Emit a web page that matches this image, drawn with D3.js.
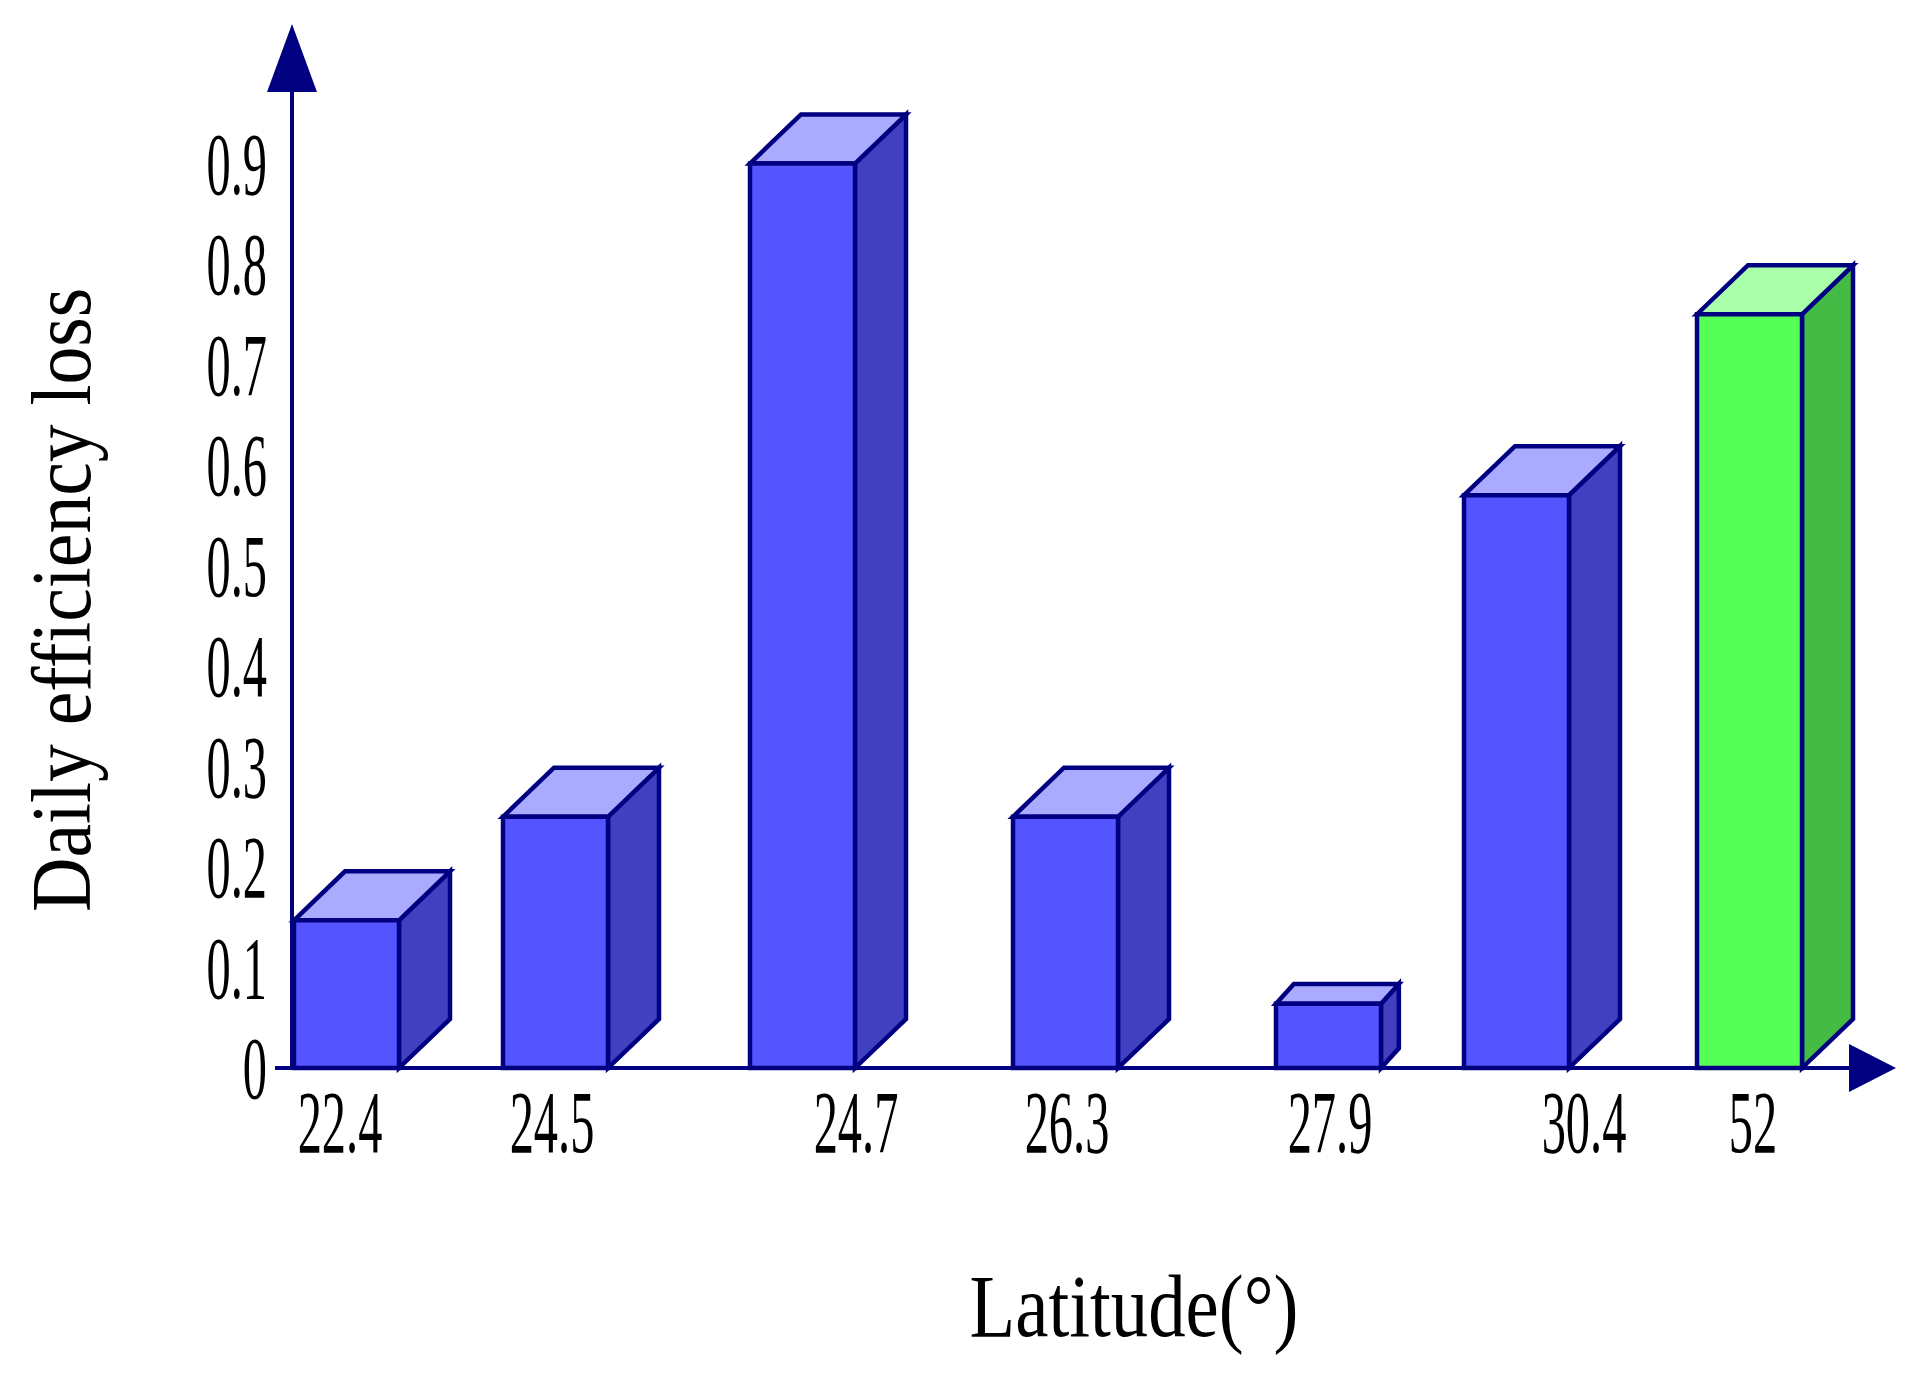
<!DOCTYPE html><html><head><script src="https://d3js.org/d3.v7.min.js"></script>
<style>body{margin:0;background:#fff}</style></head><body><svg id="c" width="1913" height="1381"></svg>
<script>
const categories=["22.4","24.5","24.7","26.3","27.9","30.4","52"];
const values=[0.147,0.25,0.9,0.25,0.064,0.57,0.75];
const yTicks=[0,0.1,0.2,0.3,0.4,0.5,0.6,0.7,0.8,0.9];
const highlight=[false,false,false,false,false,false,true];
const depthFactor=[1,1,1,1,0.35,1,1];
const svg=d3.select("#c");
const base=1068, ax=292;
const y=d3.scaleLinear().domain([0,0.9]).range([base,base-0.9*1005]);
const xPos=d3.scaleOrdinal().domain(categories).range([294,503,750,1013,1276,1464,1697]);
const bw=105, dxs=51, dys=49, col="#000080";
const g=svg.append("g");
categories.forEach((c,i)=>{
  const x0=xPos(c), yt=y(values[i]), dx=dxs*depthFactor[i], dy=dys*depthFactor[i]*(i==4?1.15:1);
  const hl=highlight[i];
  const front=hl?"#55ff55":"#5555ff", side=hl?"#44bb44":"#4040c0", top=hl?"#aaffaa":"#aaaaff";
  const st={stroke:col,"stroke-width":4.5,"stroke-linejoin":"miter"};
  const p=(pts,f)=>{const e=g.append("polygon").attr("points",pts.map(q=>q.join(",")).join(" ")).attr("fill",f);for(const k in st)e.attr(k,st[k]);};
  p([[x0+bw,base],[x0+bw+dx,base-dy],[x0+bw+dx,yt-dy],[x0+bw,yt]],side);
  p([[x0,yt],[x0+dx,yt-dy],[x0+bw+dx,yt-dy],[x0+bw,yt]],top);
  p([[x0,base],[x0,yt],[x0+bw,yt],[x0+bw,base]],front);
});
// axes
svg.append("line").attr("x1",ax).attr("x2",ax).attr("y1",base).attr("y2",60).attr("stroke",col).attr("stroke-width",4);
svg.append("polygon").attr("points",`${ax-25},92 ${ax+25},92 ${ax},24`).attr("fill",col);
svg.append("line").attr("x1",275).attr("x2",1860).attr("y1",base).attr("y2",base).attr("stroke",col).attr("stroke-width",4);
svg.append("polygon").attr("points",`1849,${base-24} 1849,${base+24} 1896,${base}`).attr("fill",col);
const tf="Liberation Serif, Times New Roman, serif";
yTicks.forEach(t=>{
  svg.append("text").attr("transform",`translate(267,${y(t)+30}) scale(0.55,1)`).attr("text-anchor","end")
   .attr("font-family",tf).attr("font-size",88).text(t===0?"0":t.toFixed(1));
});
categories.forEach((c,i)=>{
  const cx=[340,552,856,1067,1330,1584,1753][i];
  svg.append("text").attr("transform",`translate(${cx},1152) scale(0.55,1)`).attr("text-anchor","middle")
   .attr("font-family",tf).attr("font-size",88).text(c);
});
svg.append("text").attr("transform","translate(90,600) rotate(-90) scale(0.9,1)").attr("text-anchor","middle")
 .attr("font-family",tf).attr("font-size",84).text("Daily efficiency loss");
svg.append("text").attr("transform","translate(1134,1336) scale(0.85,1)").attr("text-anchor","middle")
 .attr("font-family",tf).attr("font-size",88).text("Latitude(°)");
</script></body></html>
